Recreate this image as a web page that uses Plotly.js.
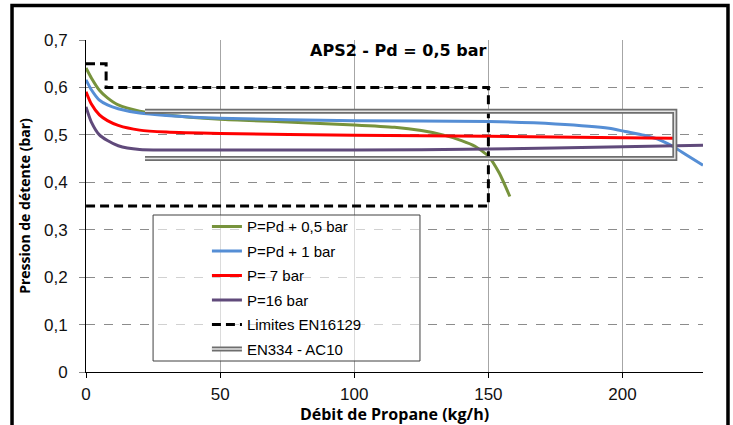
<!DOCTYPE html>
<html>
<head>
<meta charset="utf-8">
<script src="https://cdn.plot.ly/plotly-3.0.1.min.js"></script>
<style>html,body{margin:0;padding:0;background:#fff;}#chart{width:733px;height:425px;}</style>
</head>
<body>
<div id="chart"></div>
<script>
// ---- data ----
const chartTitle = 'APS2 - Pd = 0,5 bar';
const xTitle = 'Débit de Propane (kg/h)';
const yTitle = 'Pression de détente (bar)';

const xTickVals = [0, 50, 100, 150, 200];
const xTickText = ['0', '50', '100', '150', '200'];
const yTickVals = [0, 0.1, 0.2, 0.3, 0.4, 0.5, 0.6, 0.7];
const yTickText = ['0', '0,1', '0,2', '0,3', '0,4', '0,5', '0,6', '0,7'];

const seriesNames = ['P=Pd + 0,5 bar', 'P=Pd + 1 bar', 'P= 7 bar', 'P=16 bar', 'Limites EN16129', 'EN334 - AC10'];

const greenX = [0, 2, 5, 8, 12, 20, 30, 50, 75, 100, 115, 125, 133, 140, 145, 150, 154, 158];
const greenY = [0.641, 0.620, 0.594, 0.578, 0.563, 0.550, 0.542, 0.533, 0.527, 0.521, 0.516, 0.509, 0.500, 0.488, 0.476, 0.455, 0.420, 0.370];

const blueX = [0, 2, 5, 8, 12, 20, 30, 50, 100, 150, 175, 195, 201, 208, 214, 219, 224, 230];
const blueY = [0.616, 0.595, 0.573, 0.563, 0.555, 0.546, 0.541, 0.535, 0.530, 0.528, 0.523, 0.514, 0.507, 0.499, 0.489, 0.475, 0.457, 0.436];

const redX = [0, 2, 5, 8, 12, 20, 30, 50, 100, 150, 200, 219];
const redY = [0.591, 0.565, 0.542, 0.530, 0.520, 0.510, 0.506, 0.503, 0.499, 0.497, 0.494, 0.493];

const purpleX = [0, 2, 5, 8, 12, 20, 30, 50, 100, 150, 200, 230];
const purpleY = [0.559, 0.527, 0.500, 0.488, 0.477, 0.469, 0.468, 0.468, 0.468, 0.470, 0.475, 0.478];

const limitsX = [0, 7.5, 7.5, 150, 150, 0];
const limitsY = [0.65, 0.65, 0.60, 0.60, 0.35, 0.35];

const en334X = [22, 219.5, 219.5, 22];
const en334Y = [0.55, 0.55, 0.45, 0.45];

// ---- traces ----
const sm = {shape: 'spline', smoothing: 0.6};
const traces = [
  {x: greenX, y: greenY, name: seriesNames[0], mode: 'lines', legendgroup: 'g1',
   line: Object.assign({color: '#77933C', width: 3}, sm)},
  {x: blueX, y: blueY, name: seriesNames[1], mode: 'lines', legendgroup: 'g2',
   line: Object.assign({color: '#558ED5', width: 3}, sm)},
  {x: redX, y: redY, name: seriesNames[2], mode: 'lines', legendgroup: 'g3',
   line: Object.assign({color: '#FF0000', width: 3}, sm)},
  {x: purpleX, y: purpleY, name: seriesNames[3], mode: 'lines', legendgroup: 'g4',
   line: Object.assign({color: '#604A7B', width: 3}, sm)},
  {x: limitsX, y: limitsY, name: seriesNames[4], mode: 'lines', legendgroup: 'g5',
   line: {color: '#000000', width: 3, dash: '9px,5px'}},
  {x: en334X, y: en334Y, name: seriesNames[5], mode: 'lines', legendgroup: 'g6',
   line: {color: '#6e6e6e', width: 5}},
  {x: en334X, y: en334Y, name: seriesNames[5], mode: 'lines', legendgroup: 'g6', showlegend: false,
   line: {color: '#e6e6e6', width: 1.5}}
];

const tickFont = {family: 'Liberation Sans, Arial, sans-serif', size: 17, color: '#111'};

const layout = {
  width: 733, height: 425,
  margin: {l: 86, r: 30, t: 40, b: 53},
  paper_bgcolor: '#ffffff', plot_bgcolor: '#ffffff',
  showlegend: true,
  title: {text: '<b>' + chartTitle + '</b>', font: {family: 'DejaVu Sans, sans-serif', size: 16, color: '#000'},
          x: 0.506, xref: 'paper', xanchor: 'center', y: 0.882, yref: 'container', yanchor: 'middle'},
  xaxis: {
    range: [0, 230], tickvals: xTickVals, ticktext: xTickText, tickfont: tickFont,
    showline: true, linecolor: '#000', linewidth: 1, ticks: 'outside', ticklen: 5, tickcolor: '#000',
    showgrid: true, gridcolor: '#a6a6a6', gridwidth: 1, zeroline: false, ticklabelstandoff: 2,
    title: {text: '<b>' + xTitle + '</b>', font: {family: 'Open Sans, DejaVu Sans, sans-serif', size: 16, color: '#000'}, standoff: 3}
  },
  yaxis: {
    range: [0, 0.7], tickvals: yTickVals, ticktext: yTickText, tickfont: tickFont,
    showline: true, linecolor: '#000', linewidth: 1, ticks: 'outside', ticklen: 6, tickcolor: '#888',
    showgrid: true, gridcolor: '#8c8c8c', gridwidth: 1, griddash: 'dash', zeroline: false, ticklabelstandoff: 8,
    title: {text: '<b>' + yTitle + '</b>', font: {family: 'Open Sans, DejaVu Sans, sans-serif', size: 14, color: '#000'}, standoff: 10}
  },
  legend: {
    x: 0.196, xanchor: 'left', y: 0.487, yanchor: 'top',
    bgcolor: 'rgba(0,0,0,0)', borderwidth: 0,
    font: {family: 'Liberation Sans, Arial, sans-serif', size: 15, color: '#000'},
    traceorder: 'grouped', tracegroupgap: 2
  },
  shapes: [
    // white box behind title hiding gridlines
    {type: 'rect', xref: 'paper', yref: 'paper', x0: 0.2334, x1: 0.7796, y0: 0.9337, y1: 1.05,
     fillcolor: '#ffffff', line: {width: 0}, layer: 'between'},
    // legend box
    {type: 'rect', xref: 'x', yref: 'y', x0: 25, x1: 124.5, y0: 0.0232, y1: 0.331,
     fillcolor: 'rgba(255,255,255,0.6)', line: {color: '#404040', width: 1}, layer: 'between'},
    // outer chart border
    {type: 'rect', xref: 'paper', yref: 'paper', x0: -0.1199, x1: 1.0405, y0: -0.2, y1: 1.104,
     fillcolor: 'rgba(0,0,0,0)', line: {color: '#000', width: 3.5}, layer: 'above'}
  ]
};

Plotly.newPlot('chart', traces, layout, {displayModeBar: false, staticPlot: true}).then(function (gd) {
  // inner light line of the double-line legend sample for EN334
  const items = gd.querySelectorAll('.legend .traces');
  const last = items[items.length - 1];
  if (last) {
    const path = last.querySelector('.legendlines path');
    if (path) {
      const clone = path.cloneNode(true);
      clone.style.stroke = '#e6e6e6';
      clone.style.strokeWidth = '1.5px';
      path.parentNode.appendChild(clone);
    }
  }
});
</script>
</body>
</html>
